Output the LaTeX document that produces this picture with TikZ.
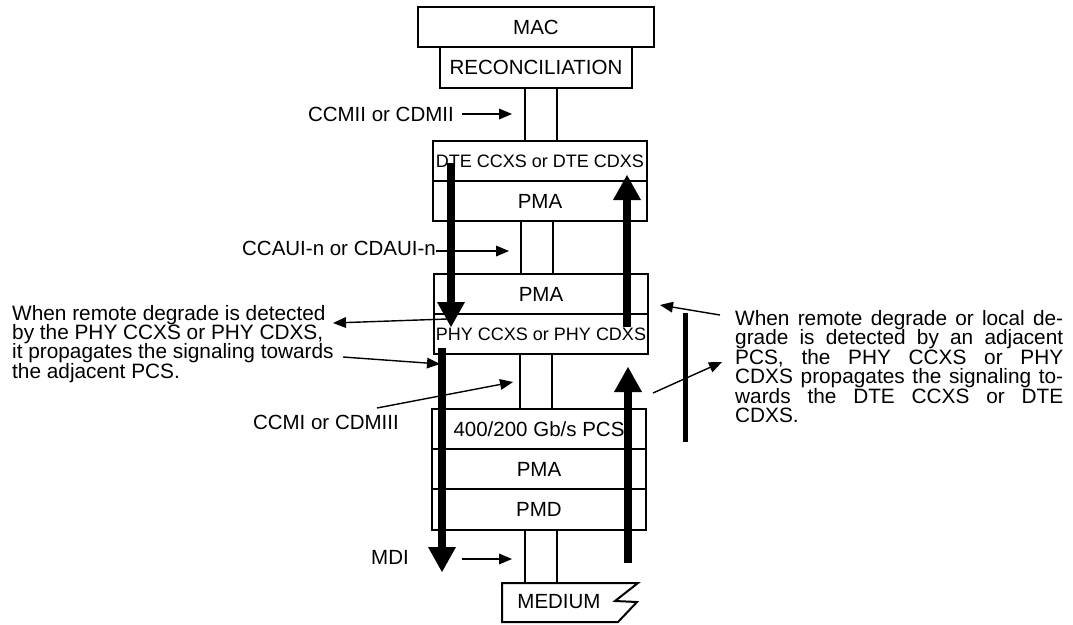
\documentclass[tikz,border=0pt]{standalone}
\usepackage{fontspec}
\setmainfont{Liberation Sans}
\usetikzlibrary{arrows.meta}

\tikzset{
  layer/.style={draw,line width=2.4pt,inner sep=0pt,minimum width=214pt,minimum height=40pt},
  sublayer/.style={layer,font=\fontsize{18}{20}\selectfont},
  chan/.style={draw,line width=2pt,inner sep=0pt,minimum width=32pt},
  bigarrow/.style={line width=8pt,-{Triangle[width=28pt,length=25pt,line width=0pt]}},
  sigarrow/.style={line width=1.4pt,-{Triangle[width=11pt,length=13pt,line width=0pt]}},
  note/.style={inner sep=0pt,font=\fontsize{20.8}{19.4}\selectfont},
}

\begin{document}
\begin{tikzpicture}[x=1pt,y=-1pt,font=\fontsize{20.5}{22}\selectfont]
\useasboundingbox (0,0) rectangle (1073,624);
% layer stack
\node[layer,minimum width=236pt] (mac) at (536,27) {MAC};
\node[layer,minimum width=192pt,minimum height=41pt] (rec) at (536,67.5) {RECONCILIATION};
\node[chan,minimum height=53pt] (mii) at (541,114.5) {};
\node[sublayer] (dte) at (540,161) {DTE CCXS or DTE CDXS};
\node[layer] (dtepma) at (540,201) {PMA};
\node[chan,minimum height=53pt] (aui) at (537,247.5) {};
\node[layer] (phypma) at (541,294) {PMA};
\node[sublayer] (phy) at (541,334) {PHY CCXS or PHY CDXS};
\node[chan,minimum height=55pt] (mi) at (536,381.5) {};
\node[layer] (pcs) at (539,429) {400/200 Gb/s PCS};
\node[layer] (pma) at (539,469) {PMA};
\node[layer,minimum height=41pt] (pmd) at (539,509.5) {PMD};
\node[chan,minimum height=53pt] (mdi) at (541,556.5) {};
% medium
\draw[line width=2pt,line join=miter] (502,583) -- (638,583) -- (615,601) -- (637,602)
  -- (618,622) -- (502,622) -- cycle;
\node (medium) at (559,602) {MEDIUM};

% interface labels
\node[anchor=east,inner sep=0pt] (miilabel) at (454,114) {CCMII or CDMII};
\node[anchor=east,inner sep=0pt] (auilabel) at (436,248) {CCAUI-n or CDAUI-n};
\node[anchor=east,inner sep=0pt] (milabel) at (399,422) {CCMI or CDMIII};
\node[anchor=east,inner sep=0pt] (mdilabel) at (409,557) {MDI};
\coordinate (mistart) at (377,408);
\coordinate (mitip) at (513,382);
\coordinate (mdistart) at (462,559);
\draw[sigarrow,shorten <=8pt,shorten >=12pt] (miilabel.east) -- (miilabel.east -| mii.west);
\draw[sigarrow,shorten >=11pt] ([yshift=-3pt]auilabel.east) -- ([yshift=-3pt]auilabel.east -| aui.west);
\draw[sigarrow] (mistart) -- (mitip);
\draw[sigarrow,shorten >=12pt] (mdistart) -- (mdistart -| mdi.west);

% signal flow
\coordinate (dnAs) at (451,163);
\coordinate (dnAe) at (451,327);
\coordinate (dnBs) at (442,348);
\coordinate (dnBe) at (442,572);
\coordinate (upAs) at (627,327);
\coordinate (upAe) at (627,175);
\coordinate (upBs) at (628,563);
\coordinate (upBe) at (628,367);
\draw[bigarrow] (dnAs) -- (dnAe);
\draw[bigarrow] (dnBs) -- (dnBe);
\draw[bigarrow] (upAs) -- (upAe);
\draw[bigarrow] (upBs) -- (upBe);
\draw[line width=5pt] (685,313) -- (685,442);

% notes
\node[note,anchor=base west] (lefttxt) at (12,320) {\parbox[t]{340pt}{\raggedright
  When remote degrade is detected\\
  by the PHY CCXS or PHY CDXS,\\
  it propagates the signaling towards\\
  the adjacent PCS.}};
\node[note,anchor=base west] (righttxt) at (735,325.5) {\parbox[t]{328pt}{%
  \makebox[328pt][s]{When remote degrade or local de-}\\
  \makebox[328pt][s]{grade is detected by an adjacent}\\
  \makebox[328pt][s]{PCS, the PHY CCXS or PHY}\\
  \makebox[328pt][s]{CDXS propagates the signaling to-}\\
  \makebox[328pt][s]{wards the DTE CCXS or DTE}\\
  CDXS.}};
\coordinate (remAs) at (447,319);
\coordinate (remAe) at (333,323);
\coordinate (remBs) at (343,357);
\coordinate (remBe) at (440,364);
\coordinate (locAs) at (720,315);
\coordinate (locAe) at (660,305);
\coordinate (locBs) at (653,393);
\coordinate (locBe) at (722,362);
\draw[sigarrow] (remAs) -- (remAe);
\draw[sigarrow] (remBs) -- (remBe);
\draw[sigarrow] (locAs) -- (locAe);
\draw[sigarrow] (locBs) -- (locBe);
\end{tikzpicture}
\end{document}
